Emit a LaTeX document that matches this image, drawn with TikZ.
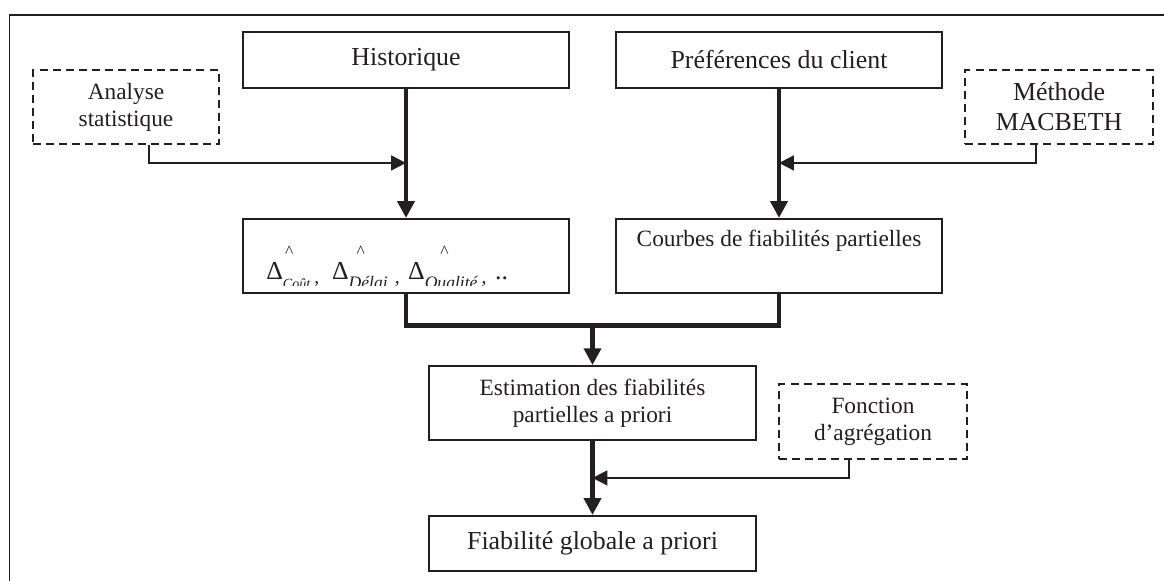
\documentclass[tikz,border=0pt]{standalone}
\usepackage{fontspec}
\setmainfont{Liberation Serif}
\usepackage{tikz}
\usetikzlibrary{positioning, arrows.meta}
\definecolor{inkline}{RGB}{35,31,32}

\newcommand{\bigsize}{\fontsize{18.4}{21.3}\selectfont}
\newcommand{\smallsize}{\fontsize{16.6}{19.2}\selectfont}
% Delta with its caret and a lowered italic index
\newcommand{\dhat}[3]{Δ\rlap{\raisebox{15.5pt}{\fontsize{12.5}{12.5}\selectfont\kern#1\symbol{94}}}\raisebox{-6.5pt}{\fontsize{#2}{#2}\selectfont\itshape #3}}
\newcommand{\dcomma}{\raisebox{-3.5pt}{\fontsize{14}{14}\selectfont,}}

\begin{document}
\begin{tikzpicture}[
        x=0.025cm, y=-0.025cm,
        font=\bigsize, text=inkline,
        mainbox/.style={
            rectangle, draw=inkline, line width=1.3pt,
            minimum width=8.15cm, minimum height=1.4cm, align=center, inner sep=2pt
        },
        tallbox/.style={
            mainbox, minimum height=1.85cm, font=\smallsize
        },
        dashbox/.style={
            rectangle, draw=inkline, line width=1.3pt, dash pattern=on 5.7pt off 3.6pt,
            minimum width=4.7cm, minimum height=1.85cm, align=center, inner sep=2pt
        },
        thickline/.style={draw=inkline, line width=3.4pt},
        thickarrow/.style={thickline, -{Triangle[length=0.42cm, width=0.42cm]}},
        thinarrow/.style={draw=inkline, line width=1.3pt, -{Triangle[length=0.37cm, width=0.37cm]}}
    ]

    \useasboundingbox (0,0) rectangle (1164,580);

    % OUTER FRAME (runs off the page at right and bottom)
    \draw[draw=inkline, line width=1.4pt] (9.5,15) rectangle (1200,620);

    % TOP ROW
    \node[mainbox] (hist) at (406, 60) {Historique};
    \node[mainbox] (pref) at (779, 60) {Préférences du client};

    % SIDE METHODS
    \node[dashbox, minimum width=4.65cm, font=\smallsize] (analyse) at (126, 107) {Analyse\\statistique};
    \node[dashbox] (macbeth) at (1059, 107) {Méthode\\MACBETH};

    % PARTIAL RESULTS
    \node[tallbox, below=3.225cm of hist] (delta) {};
    \node[tallbox, below=3.225cm of pref] (courbes) {Courbes de fiabilités partielles\\\strut};

    \begin{scope}
        \clip ([yshift=0.21cm]delta.south west) rectangle (delta.north east);
        \node[anchor=base west, inner sep=0pt] (deltatxt) at (266, 279)
            {\dhat{1.5pt}{10}{Coût}\kern3pt\dcomma\kern9pt\dhat{5.7pt}{12.5}{Délai}\kern5pt\dcomma\kern6pt\dhat{11pt}{12.5}{Qualité}\kern3pt\dcomma\kern6pt..};
    \end{scope}

    % AGGREGATION
    \node[tallbox, minimum width=8.175cm] (estim) at (592.5, 403) {Estimation des fiabilités\\partielles a priori};
    \node[dashbox, minimum height=1.875cm, font=\smallsize] (fonction) at (873, 421.5) {Fonction\\d’agrégation};
    \node[mainbox, minimum width=8.175cm, minimum height=1.375cm, below=1.85cm of estim] (fiab) {Fiabilité globale a priori};

    % JOIN POINTS
    \coordinate (jhist) at ([yshift=-1.85cm]hist.south);
    \coordinate (jpref) at ([yshift=-1.85cm]pref.south);
    \coordinate (jmerge) at ([yshift=-0.8cm]delta.south);
    \coordinate (jestim) at ([yshift=-0.925cm]estim.south);

    % THICK FLOW
    \draw[thickarrow] (hist) -- (delta);
    \draw[thickarrow] (pref) -- (courbes);
    \draw[thickline] (delta.south) -- (jmerge) -| (courbes.south);
    \draw[thickarrow] (jmerge -| estim.north) -- (estim.north);
    \draw[thickarrow] (estim) -- (fiab);

    % THIN INPUTS
    \draw[thinarrow] ([xshift=0.575cm]analyse.south) |- (jhist);
    \draw[thinarrow] ([xshift=-0.575cm]macbeth.south) |- (jpref);
    \draw[thinarrow] ([xshift=-0.6cm]fonction.south) |- (jestim);

\end{tikzpicture}
\end{document}
